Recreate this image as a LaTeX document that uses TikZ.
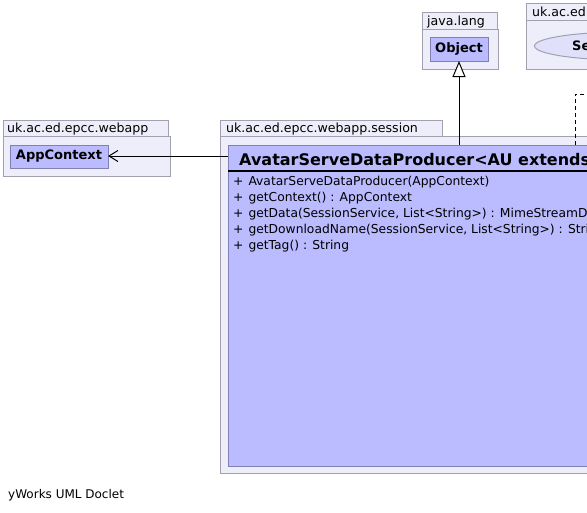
\documentclass[tikz,border=0pt]{standalone}
\usepackage{fontspec}
\setmainfont{DejaVu Sans}
\usetikzlibrary{arrows.meta,shapes.geometric}
\definecolor{pkgfill}{RGB}{238,238,251}
\definecolor{pkgline}{RGB}{160,160,176}
\definecolor{clsfill}{RGB}{187,187,255}
\definecolor{clsline}{RGB}{128,128,180}
\definecolor{ellfill}{RGB}{224,224,250}
\tikzset{
  pkg/.style={draw=pkgline, fill=pkgfill, line width=1pt, anchor=north west, inner sep=0pt, outer sep=0pt},
  cls/.style={draw=clsline, fill=clsfill, line width=1pt, anchor=north west, inner sep=0pt, outer sep=0pt},
  lbl/.style={anchor=base west, inner sep=0pt, font=\fontsize{12.3}{14}\selectfont},
  plbl/.style={anchor=base west, inner sep=0pt, font=\fontsize{12.6}{14}\selectfont},
  bold/.style={font=\fontsize{13}{15}\selectfont\bfseries, inner sep=0pt},
  conn/.style={line width=1pt, draw=black}
}
\begin{document}
\begin{tikzpicture}[x=1pt,y=-1pt]
\fill[white] (0,0) rectangle (587,512);
\clip (0,0) rectangle (587,512);
\useasboundingbox (0,0) rectangle (587,512);

% package uk.ac.ed.epcc.webapp
\node[pkg, minimum width=165, minimum height=16] (pkgAtab) at (3,120) {};
\node[pkg, minimum width=167, minimum height=40] (pkgA) at (3,136) {};
\node[plbl] (pkgAlbl) at (7,132) {uk.ac.ed.epcc.webapp};
\node[cls, minimum width=98, minimum height=23] (app) at (10,145) {};
\node[bold] (applbl) at (app.center) {AppContext};

% package java.lang
\node[pkg, minimum width=75, minimum height=17] (pkgBtab) at (422,12) {};
\node[pkg, minimum width=76, minimum height=40] (pkgB) at (422,29) {};
\node[plbl] (pkgBlbl) at (427,25) {java.lang};
\node[cls, minimum width=58, minimum height=24] (obj) at (430,37) {};
\node[bold] (objlbl) at (obj.center) {Object};

% package uk.ac.ed... (right, clipped)
\node[pkg, minimum width=220, minimum height=17] (pkgCtab) at (526,3) {};
\node[pkg, minimum width=240, minimum height=49] (pkgC) at (526,20) {};
\node[plbl] (pkgClbl) at (532,16) {uk.ac.ed.epcc.webapp.session};
\node[ellipse, draw=pkgline, fill=ellfill, line width=1pt, minimum width=180, minimum height=28, anchor=west] (svc) at (534,46) {};
\node[bold, anchor=west] (svclbl) at (572,46) {SessionService};

% package uk.ac.ed.epcc.webapp.session
\node[pkg, minimum width=222, minimum height=16] (pkgDtab) at (220,120) {};
\node[pkg, minimum width=420, minimum height=337] (pkgD) at (220,136) {};
\node[plbl] (pkgDlbl) at (226,132) {uk.ac.ed.epcc.webapp.session};

% main class
\node[cls, minimum width=420, minimum height=321] (main) at (228,145) {};
\node[anchor=base west, inner sep=0pt, font=\fontsize{16}{19}\selectfont\bfseries] (title) at (239,165) {AvatarServeDataProducer<AU extends AppUser>};
\draw[line width=2pt] (228,171) -- (620,171);
\node[lbl] (m1) at (233,185) {+\hspace{5pt}AvatarServeDataProducer(AppContext)};
\node[lbl] (m2) at (233,201) {+\hspace{5pt}getContext() : AppContext};
\node[lbl] (m3) at (233,217) {+\hspace{5pt}getData(SessionService, List<String>) : MimeStreamData};
\node[lbl] (m4) at (233,233) {+\hspace{5pt}getDownloadName(SessionService, List<String>) : String};
\node[lbl] (m5) at (233,249) {+\hspace{5pt}getTag() : String};

% connectors
\coordinate (mainL) at (228,156);
\draw[conn, -{Straight Barb[length=9pt,width=11pt,line width=1pt]}] (mainL) -- (mainL -| app.east);
\coordinate (mainT) at (459,145);
\draw[conn, -{Triangle[open, length=16pt, width=13pt, line width=1pt, fill=white]}] (mainT) -- (mainT |- obj.south);
\coordinate (dashT) at (575,145);
\coordinate (dashC) at (575,94);
\coordinate (dashE) at (620,94);
\draw[conn, dashed, dash pattern=on 4pt off 3pt] (dashT) -- (dashC) -- (dashE);

\node[anchor=base west, inner sep=0pt, font=\fontsize{12}{14}\selectfont] (doclet) at (8,498) {yWorks UML Doclet};
\end{tikzpicture}
\end{document}
